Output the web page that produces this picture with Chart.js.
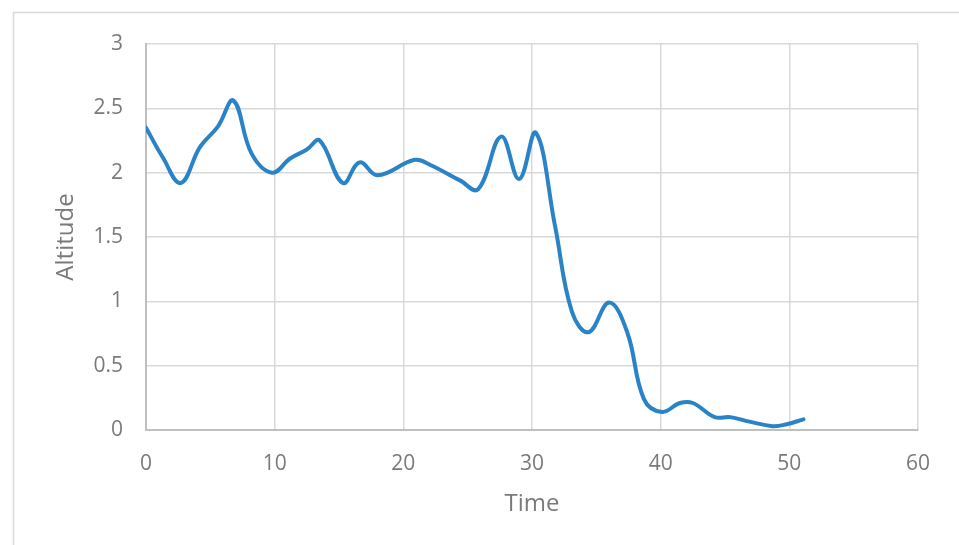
<!DOCTYPE html>
<html>
<head>
<meta charset="utf-8">
<script src="https://cdn.jsdelivr.net/npm/chart.js@4"></script>
<style>
  html, body { margin: 0; padding: 0; background: #ffffff; }
  #wrap { position: relative; width: 959px; height: 545px; }
</style>
</head>
<body>
<div id="wrap"><canvas id="chart" width="959" height="545"></canvas></div>
<script>
// Flight record: time vs altitude
const timeValues = [0, 1.3, 2.7, 4.2, 5.6, 6.8, 8.2, 9.8, 11.2, 12.5, 13.5, 15.3, 16.6, 18.0,
  20.9, 22.1, 24.4, 25.8, 27.6, 29.0, 30.3, 31.8, 33.1, 34.4, 36.0, 37.4, 38.7,
  40.1, 41.5, 42.5, 44.2, 45.4, 46.9, 48.7, 49.8, 51.1];
const altitudeValues = [2.35, 2.12, 1.92, 2.2, 2.36, 2.56, 2.15, 2.0, 2.11, 2.18, 2.25, 1.92, 2.08, 1.98,
  2.10, 2.06, 1.94, 1.87, 2.28, 1.95, 2.31, 1.58, 0.92, 0.76, 0.99, 0.76, 0.24,
  0.14, 0.21, 0.21, 0.10, 0.10, 0.065, 0.03, 0.045, 0.083];
const xTicks = [0, 10, 20, 30, 40, 50, 60];
const yTicks = [0, 0.5, 1, 1.5, 2, 2.5, 3];

const points = timeValues.map((t, i) => ({ x: t, y: altitudeValues[i] }));

const textColor = '#7a7a7a';
const fontFamily = '"Open Sans", "Noto Sans", sans-serif';

// Light outer frame around the chart
const framePlugin = {
  id: 'frame',
  beforeDraw(chart) {
    const ctx = chart.ctx;
    ctx.save();
    ctx.strokeStyle = '#d9d9d9';
    ctx.lineWidth = 1.5;
    ctx.strokeRect(13.5, 12.5, 1000, 1000);
    ctx.restore();
  }
};

new Chart(document.getElementById('chart'), {
  type: 'line',
  data: {
    datasets: [{
      data: points,
      borderColor: '#2a83c6',
      borderWidth: 4,
      pointRadius: 0,
      tension: 0.4,
      fill: false,
      borderCapStyle: 'round',
      borderJoinStyle: 'round'
    }]
  },
  plugins: [framePlugin],
  options: {
    responsive: false,
    animation: false,
    layout: { padding: { left: 40, top: 44, right: 41, bottom: 0 } },
    plugins: { legend: { display: false }, tooltip: { enabled: false } },
    scales: {
      x: {
        type: 'linear',
        min: xTicks[0],
        max: xTicks[xTicks.length - 1],
        afterBuildTicks(scale) { scale.ticks = xTicks.map(v => ({ value: v })); },
        afterFit(scale) { scale.height = 115; },
        grid: { color: '#d9d9d9', lineWidth: 1.5, drawTicks: false },
        border: { color: '#bfbfbf', width: 2 },
        ticks: {
          color: textColor, font: { family: fontFamily, size: 21 }, padding: 21, maxRotation: 0,
          callback: v => String(v)
        },
        title: {
          display: true, text: 'Time', color: textColor,
          font: { family: fontFamily, size: 24 }, padding: { top: 0, bottom: 26 }
        }
      },
      y: {
        type: 'linear',
        min: yTicks[0],
        max: yTicks[yTicks.length - 1],
        afterBuildTicks(scale) { scale.ticks = yTicks.map(v => ({ value: v })); },
        afterFit(scale) { scale.width = 106; },
        grid: { color: '#d9d9d9', lineWidth: 1.5, drawTicks: false },
        border: { color: '#bfbfbf', width: 2 },
        ticks: {
          color: textColor, font: { family: fontFamily, size: 21 }, padding: 23, crossAlign: 'near',
          callback: v => String(v)
        },
        title: {
          display: true, text: 'Altitude', color: textColor,
          font: { family: fontFamily, size: 24 }, padding: { top: 12, bottom: 0 }
        }
      }
    }
  }
});
</script>
</body>
</html>
